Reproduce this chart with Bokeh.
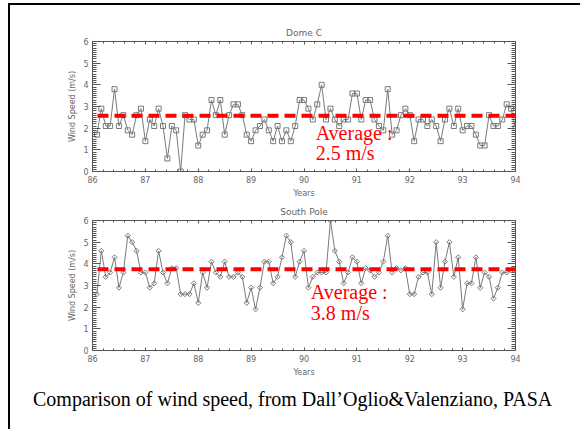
import numpy as np
from bokeh.plotting import figure
from bokeh.models import (FixedTicker, LinearAxis, Label, Span, Div, Title,
                          CustomLabelingPolicy)
from bokeh.layouts import column
from bokeh.embed import file_html
from bokeh.resources import INLINE

# ---------------- data ----------------
months = list(range(1, 97))            # monthly samples, Jan 1986 .. Dec 1993
years = [86 + m / 12 for m in months]

dome_c = [
    1.7, 2.9, 2.1, 2.1, 3.8, 2.1, 2.6, 1.9, 1.7, 2.6, 2.9, 1.4,
    2.4, 2.1, 2.9, 2.1, 0.6, 2.1, 1.9, 0.0, 2.6, 2.4, 2.4, 1.2,
    1.7, 1.9, 3.3, 2.6, 3.3, 1.7, 2.6, 3.1, 3.1, 2.6, 1.7, 1.4,
    1.9, 2.1, 2.4, 1.9, 1.4, 2.1, 1.4, 1.9, 1.4, 2.1, 3.3, 3.3,
    2.9, 2.4, 3.1, 4.0, 2.4, 2.9, 2.4, 2.1, 2.4, 2.4, 3.6, 3.6,
    2.4, 3.3, 3.3, 2.4, 2.1, 1.9, 3.8, 1.7, 1.9, 2.6, 2.9, 2.6,
    1.4, 2.4, 2.4, 2.1, 2.4, 2.1, 1.4, 2.4, 2.9, 2.1, 2.9, 1.9,
    2.1, 2.1, 1.7, 1.2, 1.2, 2.6, 2.1, 2.1, 2.4, 3.1, 2.9, 2.0,
]
south_pole = [
    2.6, 4.6, 3.4, 3.6, 4.3, 2.9, 3.6, 5.3, 5.0, 4.6, 3.6, 3.6,
    2.9, 3.1, 4.6, 3.6, 3.1, 3.8, 3.8, 2.6, 2.6, 2.6, 3.1, 2.2,
    3.6, 2.9, 4.1, 3.6, 3.4, 4.1, 3.4, 3.4, 3.6, 3.4, 2.2, 2.9,
    1.9, 2.9, 4.1, 4.1, 3.1, 3.4, 4.3, 5.3, 5.0, 3.4, 4.1, 4.6,
    2.9, 3.4, 3.6, 3.6, 3.6, 6.0, 4.6, 4.1, 3.1, 3.6, 4.3, 4.1,
    3.1, 3.8, 3.7, 3.4, 3.6, 4.1, 5.3, 3.6, 3.8, 3.7, 3.8, 2.6,
    2.6, 3.4, 3.6, 3.6, 2.6, 5.0, 2.9, 4.1, 5.0, 3.4, 4.3, 1.9,
    3.1, 3.1, 4.3, 2.9, 3.6, 3.4, 2.4, 2.9, 3.6, 3.6, 3.7, 3.7,
]
dome_c_avg_line = 2.57
south_pole_avg_line = 3.75
dome_c_avg_text = ["Average :", "2.5 m/s"]
south_pole_avg_text = ["Average :", "3.8 m/s"]

x_ticks = [86, 87, 88, 89, 90, 91, 92, 93, 94]
x_minor = [86 + k * 0.2 for k in range(41)]
y_ticks = [0, 1, 2, 3, 4, 5, 6]
y_minor = [k * 0.1 for k in range(61)]

caption = "Comparison of wind speed, from Dall\u2019Oglio&amp;Valenziano, PASA"

AX = "#555555"
TXT = "#666666"
SANS = "DejaVu Sans"
SERIF = "Liberation Serif"

NO_LABELS = CustomLabelingPolicy(code="""
try { const n = indices.size; for (let i = 0; i < n; i++) indices.unset(i) } catch (e) {}
return indices
""")


def style_axis(ax, horizontal, labels=True):
    ax.axis_line_color = AX
    ax.major_tick_line_color = AX
    ax.minor_tick_line_color = AX
    ax.major_tick_out = 0
    ax.minor_tick_out = 0
    if horizontal:
        ax.ticker = FixedTicker(ticks=x_ticks, minor_ticks=x_minor)
        ax.major_tick_in = 3
        ax.minor_tick_in = 2
    else:
        ax.ticker = FixedTicker(ticks=y_ticks, minor_ticks=y_minor)
        ax.major_tick_in = 8
        ax.minor_tick_in = 4
    ax.major_label_text_font = SANS
    ax.major_label_text_color = TXT
    if labels:
        ax.major_label_text_font_size = "8px"
        ax.major_label_standoff = 4
    else:
        ax.major_label_policy = NO_LABELS
        ax.major_label_text_font_size = "1px"
        ax.major_label_text_alpha = 0
        ax.major_label_standoff = 0
    ax.axis_label_text_font = SANS
    ax.axis_label_text_color = TXT
    ax.axis_label_text_font_size = "8px"
    ax.axis_label_text_font_style = "normal"
    ax.axis_label_standoff = 3


def panel(title, values, marker, msize, angle, avg, avg_text, txt_pos,
          height, top, bottom):
    p = figure(width=570, height=height, x_range=(86, 94), y_range=(0, 6),
               output_backend="svg", toolbar_location=None,
               min_border_left=82, min_border_right=65,
               min_border_top=top, min_border_bottom=bottom,
               x_axis_label="Years", y_axis_label="Wind Speed (m/s)")
    p.title = Title(text=title, align="center", text_font=SANS,
                    text_font_size="9px", text_color=TXT,
                    text_font_style="normal", standoff=8)
    p.xgrid.visible = False
    p.ygrid.visible = False
    p.outline_line_color = None
    p.background_fill_color = "white"
    p.border_fill_color = "white"
    style_axis(p.xaxis[0], True)
    style_axis(p.yaxis[0], False)
    top_ax = LinearAxis()
    style_axis(top_ax, True, labels=False)
    p.add_layout(top_ax, "above")
    right_ax = LinearAxis()
    style_axis(right_ax, False, labels=False)
    p.add_layout(right_ax, "right")

    p.line(years, values, line_color="#7a7a7a", line_width=1)
    p.scatter(years, values, marker=marker, size=msize, angle=angle,
              line_color="#7a7a7a", fill_color=None, line_width=1)

    p.add_layout(Span(location=avg, dimension="width", line_color="#ff0000",
                      line_width=4, line_dash="11 6", line_dash_offset=12))
    (x1, y1), (x2, y2) = txt_pos
    p.add_layout(Label(x=x1, y=y1, text=avg_text[0], text_color="#ff0000",
                       text_font=SERIF, text_font_size="20px",
                       text_baseline="alphabetic"))
    p.add_layout(Label(x=x2, y=y2, text=avg_text[1], text_color="#ff0000",
                       text_font=SERIF, text_font_size="20px",
                       text_baseline="alphabetic"))
    return p


p1 = panel("Dome C", dome_c, "square", 5, 0, dome_c_avg_line,
           dome_c_avg_text, [(90.22, 1.80), (90.22, 0.84)],
           height=195, top=36, bottom=28)
p2 = panel("South Pole", south_pole, "square", 3.6, np.pi / 4,
           south_pole_avg_line, south_pole_avg_text,
           [(90.13, 2.70), (90.13, 1.72)],
           height=180, top=19, bottom=30)

cap = Div(text='<div style="margin-top:-4px">' + caption + '</div>',
          width=570, height=47,
          styles={"font-family": SERIF, "font-size": "20px", "color": "black",
                  "padding-left": "18px", "padding-top": "0px",
                  "white-space": "nowrap"})

root = column(p1, p2, cap, spacing=0, margin=(3, 0, 0, 8),
              styles={"border-left": "2px solid black",
                      "border-top": "2px solid black"})

open("out.html", "w").write(file_html(root, INLINE))
